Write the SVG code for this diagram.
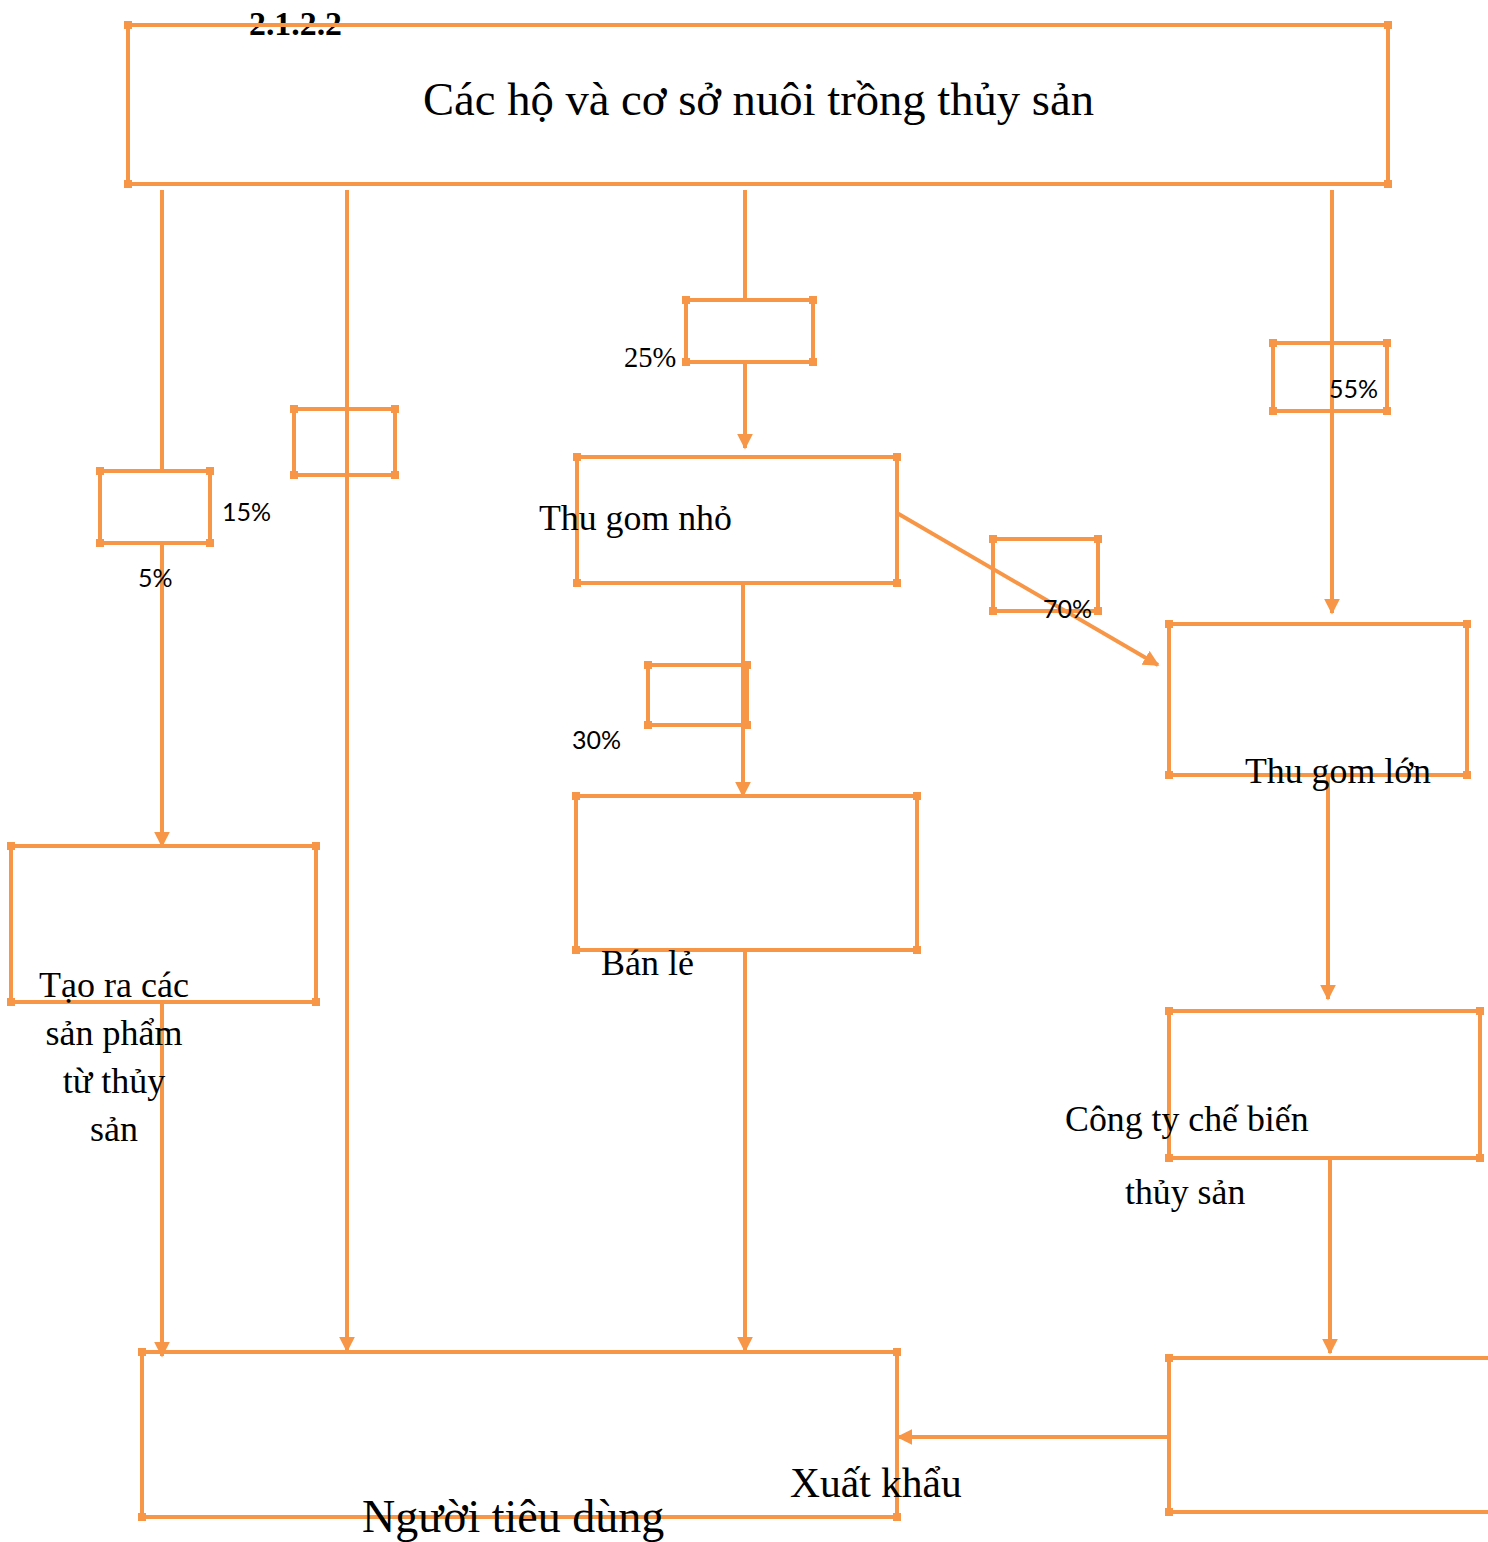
<svg xmlns="http://www.w3.org/2000/svg" width="1488" height="1542" viewBox="0 0 1488 1542">
<defs>
<style>
.b{fill:none;stroke:#F79646;stroke-width:4;marker-start:url(#t);marker-mid:url(#t);marker-end:url(#t)}
.c{fill:none;stroke:#F79646;stroke-width:4;marker-end:url(#a)}
.l{fill:none;stroke:#F79646;stroke-width:4}
.s{font-family:"Liberation Serif","Times New Roman",serif;fill:#000}
.p{font-family:Lato,"Liberation Sans",sans-serif;font-size:25px;fill:#000}
</style>
<marker id="t" viewBox="0 0 8 8" refX="4" refY="4" markerWidth="8" markerHeight="8" markerUnits="userSpaceOnUse"><rect width="8" height="8" fill="#F79646"/></marker>
<marker id="a" viewBox="0 0 10 10" refX="9" refY="5" markerWidth="16" markerHeight="16" markerUnits="userSpaceOnUse" orient="auto"><path d="M0,0 L10,5 L0,10 z" fill="#F79646"/></marker>
</defs>
<rect width="1488" height="1542" fill="#fff"/>
<g id="connectors">
<path class="l" d="M162,190 V471"/>
<path class="c" d="M162,543 V846"/>
<path class="c" d="M162,1002 V1356"/>
<path class="c" d="M347,190 V1351"/>
<path class="l" d="M745,190 V300"/>
<path class="c" d="M745,362 V448"/>
<path class="c" d="M743,583 V796"/>
<path class="c" d="M745,950 V1351"/>
<path class="c" d="M1332,190 V613"/>
<path class="c" d="M1328,775 V999"/>
<path class="c" d="M1330,1158 V1353"/>
<path class="c" d="M1169,1437 H898"/>
<path class="c" d="M897,513 L1158,665"/>
</g>
<g id="title"><text class="s" x="249" y="35" font-size="33" font-weight="bold" textLength="93" lengthAdjust="spacingAndGlyphs">2.1.2.2</text></g>
<g id="n-top"><path class="b" d="M128,25 H1388 V184 H128 Z"/><text class="s" x="423" y="115" font-size="46.5" textLength="671" lengthAdjust="spacingAndGlyphs">Các hộ và cơ sở nuôi trồng thủy sản</text></g>
<g id="box15"><path class="b" d="M100,471 H210 V543 H100 Z"/><text class="p" x="222" y="521">15%</text><text class="p" x="138" y="587">5%</text></g>
<g id="box-left2"><path class="b" d="M294,409 H395 V475 H294 Z"/></g>
<g id="box25"><path class="b" d="M686,300 H813 V362 H686 Z"/><text class="s" x="624" y="367" font-size="28.5">25%</text></g>
<g id="box55"><path class="b" d="M1273,343 H1387 V411 H1273 Z"/><text class="p" x="1329" y="398">55%</text></g>
<g id="box70"><path class="b" d="M993,539 H1098 V611 H993 Z"/><text class="p" x="1043" y="618">70%</text></g>
<g id="box30"><path class="b" d="M648,665 H747 V725 H648 Z"/><text class="p" x="572" y="749">30%</text></g>
<g id="n-thugomnho"><path class="b" d="M577,457 H897 V583 H577 Z"/><text class="s" x="539" y="530" font-size="35.8">Thu gom nhỏ</text></g>
<g id="n-banle"><path class="b" d="M576,796 H917 V950 H576 Z"/><text class="s" x="601" y="975" font-size="36">Bán lẻ</text></g>
<g id="n-thugomlon"><path class="b" d="M1169,624 H1467 V775 H1169 Z"/><text class="s" x="1245" y="783" font-size="35.8">Thu gom lớn</text></g>
<g id="n-taora"><path class="b" d="M11,846 H316 V1002 H11 Z"/>
<text class="s" font-size="36" text-anchor="middle"><tspan x="114" y="997">Tạo ra các</tspan><tspan x="114" y="1045">sản phẩm</tspan><tspan x="114" y="1093">từ thủy</tspan><tspan x="114" y="1141">sản</tspan></text></g>
<g id="n-congty"><path class="b" d="M1169,1011 H1480 V1158 H1169 Z"/><text class="s" x="1065" y="1131" font-size="35.8">Công ty chế biến</text><text class="s" x="1125" y="1204" font-size="35.8">thủy sản</text></g>
<g id="n-xuatkhau"><path class="b" d="M1492,1358 H1169 V1512 H1492"/></g>
<g id="n-nguoitieudung"><path class="b" d="M142,1352 H897 V1517 H142 Z"/><text class="s" x="790" y="1497" font-size="41.5">Xuất khẩu</text><text class="s" x="362" y="1532" font-size="46">Người tiêu dùng</text></g>
</svg>
